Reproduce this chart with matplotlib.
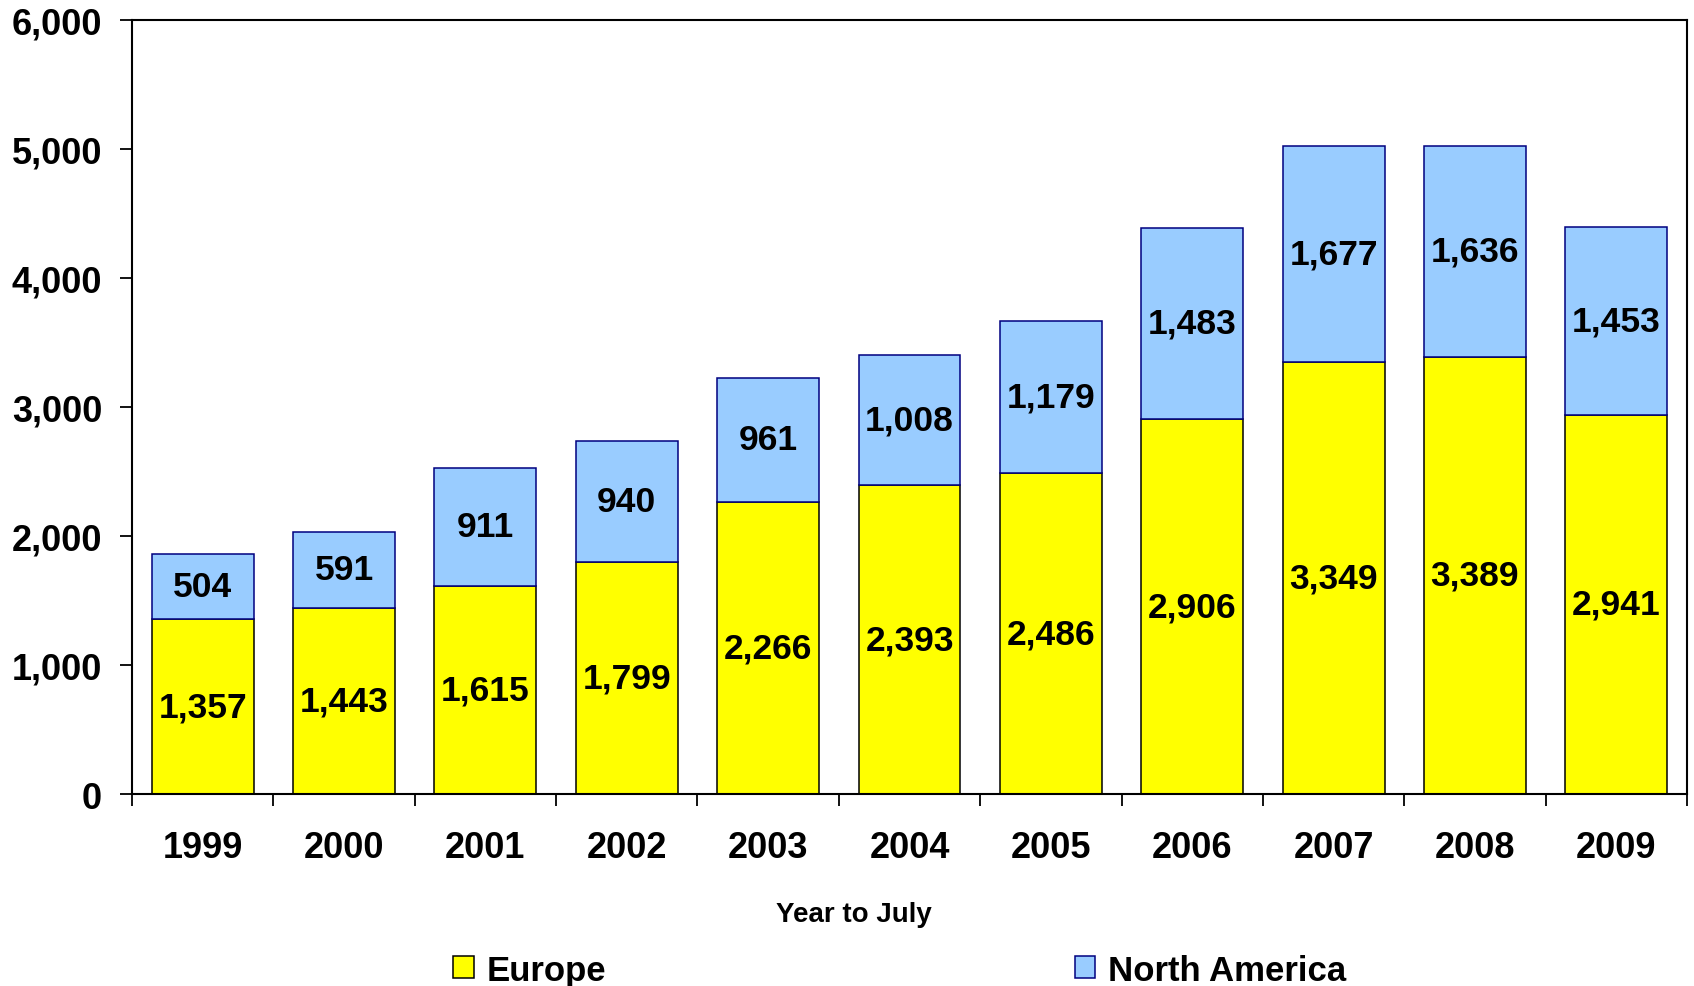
import numpy as np
import matplotlib.pyplot as plt
from matplotlib.ticker import FuncFormatter, FixedLocator

plt.rcParams['font.family'] = ['Liberation Sans', 'DejaVu Sans']
plt.rcParams['font.weight'] = 'bold'

# Year-to-July figures by region
years = ['1999', '2000', '2001', '2002', '2003', '2004', '2005', '2006', '2007', '2008', '2009']
europe = [1357, 1443, 1615, 1799, 2266, 2393, 2486, 2906, 3349, 3389, 2941]
north_america = [504, 591, 911, 940, 961, 1008, 1179, 1483, 1677, 1636, 1453]

x = np.arange(len(years))

fig = plt.figure(figsize=(16.94, 9.87), dpi=100)
ax = fig.add_axes([0.0779, 0.1945, 0.918, 0.7842])

b1 = ax.bar(x, europe, width=0.72, color='#FFFF00', edgecolor='#000000',
            linewidth=1.1, label='Europe')
b2 = ax.bar(x, north_america, width=0.72, bottom=europe, color='#99CCFF',
            edgecolor='#000080', linewidth=1.1, label='North America')

ax.bar_label(b1, labels=[f'{v:,}' for v in europe], label_type='center',
             fontsize=25.5, fontweight='bold')
ax.bar_label(b2, labels=[f'{v:,}' for v in north_america], label_type='center',
             fontsize=25.5, fontweight='bold')

ax.set_xlim(-0.5, len(years) - 0.5)
ax.set_ylim(0, 6000)
ax.set_yticks(np.arange(0, 6001, 1000))
ax.yaxis.set_major_formatter(FuncFormatter(lambda v, p: f'{v:,.0f}'))

# boundary ticks between categories, year labels centred on bars
ax.xaxis.set_major_locator(FixedLocator(np.arange(-0.5, len(years), 1.0)))
ax.xaxis.set_major_formatter(FuncFormatter(lambda v, p: ''))
ax.set_xticks(x, minor=True)
ax.set_xticklabels(years, minor=True)
ax.tick_params(axis='x', which='major', direction='out', length=8.5, width=1.3)
ax.tick_params(axis='x', which='minor', length=0, pad=26, labelsize=26)
ax.tick_params(axis='y', direction='out', length=8.5, width=1.3, pad=13, labelsize=26)

for s in ax.spines.values():
    s.set_linewidth(1.5)

fig.text(0.504, 1 - 915 / 987, 'Year to July', fontsize=20, fontweight='bold',
         ha='center', va='center')

fig.legend(handles=[b1, b2], loc='center', bbox_to_anchor=(0.531, 0.016), ncol=2,
           frameon=False, fontsize=25, handlelength=0.6, handleheight=0.6,
           handletextpad=0.35, columnspacing=13.5, borderpad=0)

fig.savefig('out.png', dpi=100)
